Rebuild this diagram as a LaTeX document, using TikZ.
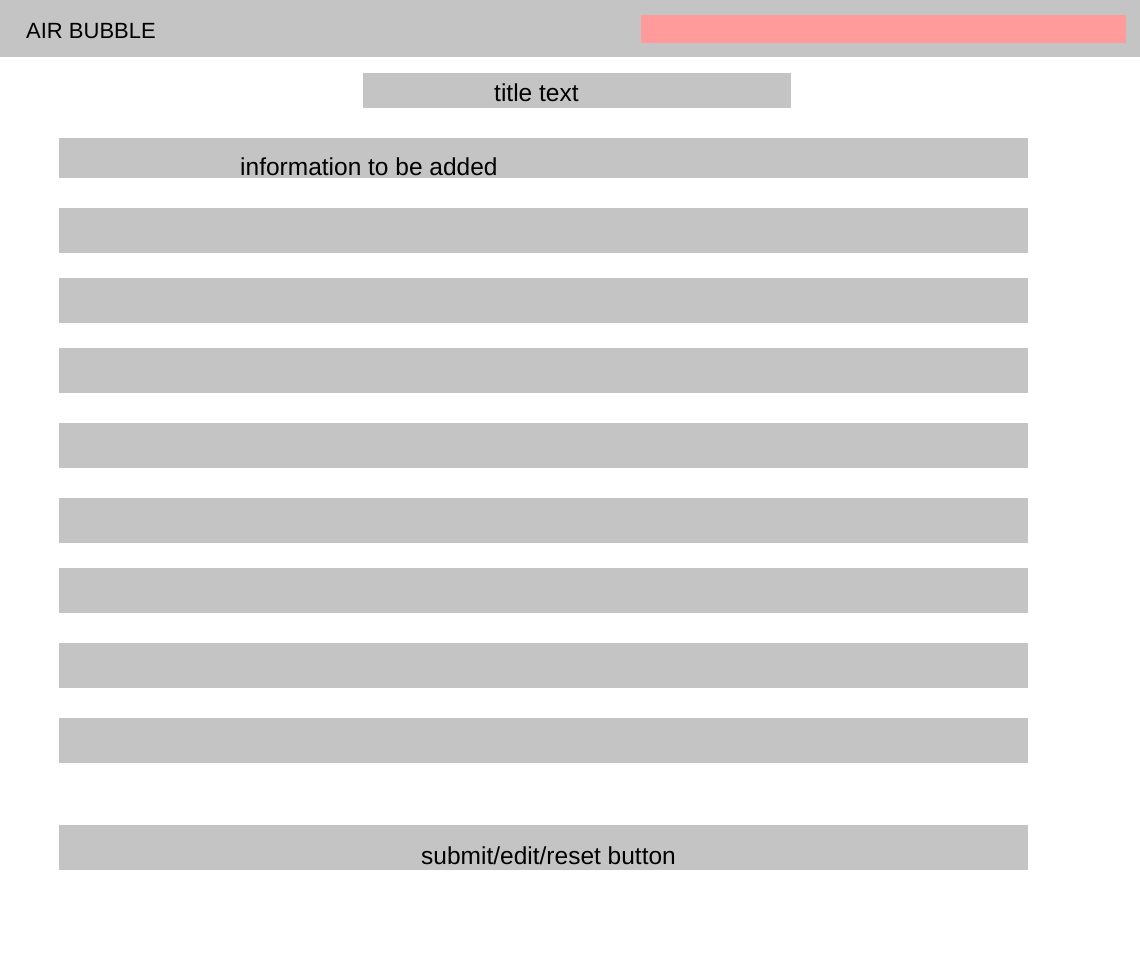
\documentclass[tikz,border=0pt]{standalone}
\usepackage{fontspec}
\setmainfont{Liberation Sans}
\definecolor{boxgray}{HTML}{C4C4C4}
\definecolor{boxred}{HTML}{FF9B9B}
\tikzset{
  field/.style={fill=boxgray, draw=none, inner sep=0pt, outer sep=0pt, anchor=north west, minimum height=45pt, minimum width=969pt},
  label/.style={inner sep=0pt, anchor=base west, font=\fontsize{24.5}{28}\selectfont, text=black},
}
\begin{document}
\begin{tikzpicture}[x=1pt,y=-1pt]
\useasboundingbox[fill=white] (0,0) rectangle (1140,977);
% header
\node[fill=boxgray, inner sep=0pt, anchor=north west, minimum width=1140pt, minimum height=57pt] (header) at (0,0) {};
\node[fill=boxred, inner sep=0pt, anchor=north west, minimum width=485pt, minimum height=28pt] (search) at (641,15) {};
\node[label, font=\fontsize{22}{26}\selectfont] (brand) at (26,38) {AIR BUBBLE};
% title
\node[fill=boxgray, inner sep=0pt, anchor=north west, minimum width=428pt, minimum height=35pt] (title) at (363,73) {};
\node[label] (titletxt) at (494,101) {title text};
% fields
\node[field, minimum height=40pt] (f1) at (59,138) {};
\node[label] (f1txt) at (240,175) {information to be added};
\node[field] (f2) at (59,208) {};
\node[field] (f3) at (59,278) {};
\node[field] (f4) at (59,348) {};
\node[field] (f5) at (59,423) {};
\node[field] (f6) at (59,498) {};
\node[field] (f7) at (59,568) {};
\node[field] (f8) at (59,643) {};
\node[field] (f9) at (59,718) {};
% button
\node[field] (btn) at (59,825) {};
\node[label] (btntxt) at (421,864) {submit/edit/reset button};
\end{tikzpicture}
\end{document}
